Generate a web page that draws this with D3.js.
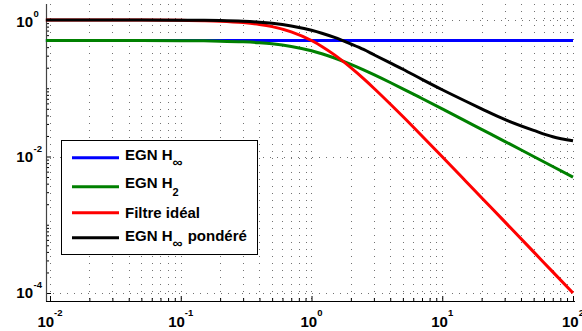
<!DOCTYPE html>
<html><head><meta charset="utf-8">
<script src="https://cdn.jsdelivr.net/npm/d3@7"></script>
<style>
html,body{margin:0;padding:0;background:#fff;}
svg{display:block;}
text{font-family:"Liberation Sans",Arial,Helvetica,sans-serif;font-weight:bold;}
</style></head>
<body>
<svg id="chart" width="582" height="331"></svg>
<script>
// ---- data ----
const freq = [0.0093, 0.02, 0.05, 0.1, 0.15, 0.2, 0.3, 0.4, 0.5, 0.7, 1, 1.2, 1.5, 2, 2.5, 3, 4, 5, 7, 10, 15, 20, 30, 50, 70, 100];
const egnHinf = [0.5,0.5,0.5,0.5,0.5,0.5,0.5,0.5,0.5,0.5,0.5,0.5,0.5,0.5,0.5,0.5,0.5,0.5,0.5,0.5,0.5,0.5,0.5,0.5,0.5,0.5];
const egnH2 = [0.5,0.4999,0.4994,0.4975,0.4945,0.4903,0.4789,0.4642,0.4472,0.4096,0.3536,0.3201,0.2774,0.2236,0.1857,0.1581,0.1213,0.0981,0.0707,0.0498,0.0333,0.0250,0.0167,0.0100,0.00714,0.0050];
const filtreIdeal = [1.0,0.9996,0.9975,0.990,0.978,0.962,0.917,0.862,0.800,0.671,0.500,0.410,0.308,0.200,0.138,0.100,0.0588,0.0385,0.0200,0.0099,0.00442,0.00249,0.00111,0.0004,0.000204,0.0001];
const egnHinfPondere = [1.0,0.9998,0.9988,0.995,0.989,0.981,0.958,0.928,0.894,0.819,0.707,0.640,0.555,0.445,0.37,0.31,0.235,0.19,0.135,0.095,0.065,0.050,0.035,0.0242,0.0195,0.017];

const seriesValues = [egnHinf, egnH2, filtreIdeal, egnHinfPondere];
const seriesColors = ["#0000ff", "#008000", "#ff0000", "#000000"];
const legendMain = ["EGN H", "EGN H", "Filtre idéal", "EGN H"];
const legendSub = ["∞", "2", "", "∞"];
const legendRest = ["", "", "", " pondéré"];

const xMajorTicks = [0.01, 0.1, 1, 10, 100];
const xTickExp = ["-2", "-1", "0", "1", "2"];
const yMajorTicks = [1, 0.01, 0.0001];
const yTickExp = ["0", "-2", "-4"];

// ---- layout ----
const svg = d3.select("#chart");
const axL = 46, axB = 301, pTop = 4, pRight = 575;
const x = d3.scaleLog().domain([0.01, 100]).range([50, 573]);
const y = d3.scaleLog().domain([1e-4, 1]).range([293, 20]);

const xMinor = [];
for (let e = -2; e < 2; e++) for (let m = 2; m <= 9; m++) xMinor.push(m * Math.pow(10, e));
const yMinor = [];
for (let e = -4; e < 0; e++) for (let m = 1; m <= 9; m++) { const v = m * Math.pow(10, e); if (!yMajorTicks.some(t => Math.abs(t - v) / v < 1e-6)) yMinor.push(v); }

// grid
const grid = svg.append("g").attr("stroke", "#000").attr("stroke-width", 1).attr("stroke-dasharray", "1,6").attr("opacity", 0.55);
xMajorTicks.concat(xMinor).forEach(v => {
  const px = Math.round(x(v)) + 0.5;
  grid.append("line").attr("x1", px).attr("x2", px).attr("y1", pTop).attr("y2", axB);
});
yMajorTicks.forEach(v => {
  const py = Math.round(y(v)) + 0.5;
  grid.append("line").attr("x1", axL).attr("x2", pRight).attr("y1", py).attr("y2", py);
});

// axes (ticks inside)
const gx = svg.append("g").attr("transform", `translate(0,${axB})`);
gx.call(d3.axisBottom(x).tickValues(xMinor).tickSize(-3).tickFormat(""));
gx.append("g").call(d3.axisBottom(x).tickValues(xMajorTicks).tickSize(-5).tickFormat(""));
gx.selectAll(".domain").remove();
gx.selectAll("line").attr("stroke", "#000");

const gy = svg.append("g").attr("transform", `translate(${axL},0)`);
gy.call(d3.axisLeft(y).tickValues(yMinor).tickSize(-3).tickFormat(""));
gy.append("g").call(d3.axisLeft(y).tickValues(yMajorTicks).tickSize(-5).tickFormat(""));
gy.selectAll(".domain").remove();
gy.selectAll("line").attr("stroke", "#000");

svg.append("line").attr("x1", axL + 0.5).attr("x2", axL + 0.5).attr("y1", pTop).attr("y2", axB + 0.5).attr("stroke", "#444").attr("stroke-width", 1.2);
svg.append("line").attr("x1", axL).attr("x2", pRight).attr("y1", axB + 0.5).attr("y2", axB + 0.5).attr("stroke", "#000").attr("stroke-width", 1.2);

// tick labels
xMajorTicks.forEach((v, i) => {
  const t = svg.append("text").attr("x", x(v)).attr("y", 327).attr("text-anchor", "middle").attr("font-size", 15).attr("fill", "#000");
  t.append("tspan").text("10");
  t.append("tspan").attr("dy", -11).attr("font-size", 9.5).text(xTickExp[i]);
});
yMajorTicks.forEach((v, i) => {
  const base = Math.max(y(v) + 5, 27);
  svg.append("text").attr("x", 33).attr("y", base).attr("text-anchor", "end").attr("font-size", 15).text("10");
  svg.append("text").attr("x", 33.5).attr("y", base - 10).attr("text-anchor", "start").attr("font-size", 9.5).text(yTickExp[i]);
});

// curves
const line = d3.line().x((d, i) => x(freq[i])).y(d => y(d)).curve(d3.curveMonotoneX);
seriesValues.forEach((vals, k) => {
  svg.append("path").datum(vals).attr("d", line).attr("fill", "none")
    .attr("stroke", seriesColors[k]).attr("stroke-width", 3).attr("stroke-linejoin", "round");
});

// legend
const lg = svg.append("g").attr("transform", "translate(61,140)");
lg.append("rect").attr("x", 0.5).attr("y", 0.5).attr("width", 196).attr("height", 114).attr("fill", "#fff").attr("stroke", "#000").attr("stroke-width", 1);
const rowBase = [20, 48.3, 78.3, 101];
const rowLine = [17.7, 46.7, 72.7, 97.7];
const subDy = [7, 8, 0, 7];
const subSize = [14, 11, 11, 14];
seriesColors.forEach((c, k) => {
  lg.append("line").attr("x1", 11).attr("x2", 58).attr("y1", rowLine[k]).attr("y2", rowLine[k]).attr("stroke", c).attr("stroke-width", 3);
  const t = lg.append("text").attr("x", 64).attr("y", rowBase[k]).attr("font-size", 15).attr("fill", "#000");
  t.append("tspan").text(legendMain[k]);
  if (legendSub[k]) t.append("tspan").attr("dy", subDy[k]).attr("font-size", subSize[k]).text(legendSub[k]);
  if (legendRest[k]) t.append("tspan").attr("dy", -subDy[k]).attr("dx", 1).text(legendRest[k]);
});
</script>
</body></html>
